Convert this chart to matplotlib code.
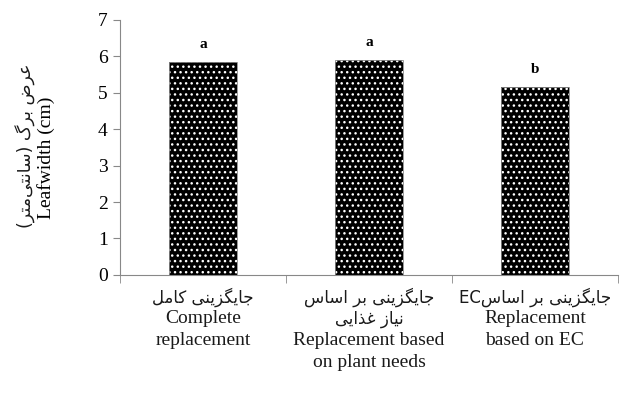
import re
import matplotlib
matplotlib.use("Agg")
import matplotlib.pyplot as plt
import numpy as np

# data
categories = ["جایگزینی کامل\nComplete\nreplacement",
              "جایگزینی بر اساس\nنیاز غذایی\nReplacement based\non plant needs",
              "جایگزینی بر اساسEC\nReplacement\nbased on EC"]
leaf_width = [5.85, 5.90, 5.17]
letters = ["a", "a", "b"]
ylabel_fa = "عرض برگ (سانتی‌متر)"
ylabel_en = "Leafwidth (cm)"

# contextual forms: isolated, final, initial, medial (None = right-joining only)
FORMS = {
    "ا": ("\uFE8D", "\uFE8E", None, None),
    "ب": ("\uFE8F", "\uFE90", "\uFE91", "\uFE92"),
    "ت": ("\uFE95", "\uFE96", "\uFE97", "\uFE98"),
    "ج": ("\uFE9D", "\uFE9E", "\uFE9F", "\uFEA0"),
    "ذ": ("\uFEAB", "\uFEAC", None, None),
    "ر": ("\uFEAD", "\uFEAE", None, None),
    "ز": ("\uFEAF", "\uFEB0", None, None),
    "س": ("\uFEB1", "\uFEB2", "\uFEB3", "\uFEB4"),
    "ض": ("\uFEBD", "\uFEBE", "\uFEBF", "\uFEC0"),
    "ع": ("\uFEC9", "\uFECA", "\uFECB", "\uFECC"),
    "غ": ("\uFECD", "\uFECE", "\uFECF", "\uFED0"),
    "ل": ("\uFEDD", "\uFEDE", "\uFEDF", "\uFEE0"),
    "م": ("\uFEE1", "\uFEE2", "\uFEE3", "\uFEE4"),
    "ن": ("\uFEE5", "\uFEE6", "\uFEE7", "\uFEE8"),
    "ی": ("\uFBFC", "\uFBFD", "\uFBFE", "\uFBFF"),
    "ک": ("\uFB8E", "\uFB8F", "\uFB90", "\uFB91"),
    "گ": ("\uFB92", "\uFB93", "\uFB94", "\uFB95"),
}
MIRROR = {"(": ")", ")": "("}
ARABIC = re.compile("[\u0600-\u06ff]")


def shape(s):
    out = []
    for i, ch in enumerate(s):
        if ch not in FORMS:
            if ch != "\u200c":
                out.append(ch)
            continue
        prev = s[i - 1] if i > 0 else ""
        nxt = s[i + 1] if i + 1 < len(s) else ""
        jp = prev in FORMS and FORMS[prev][2] is not None
        jn = FORMS[ch][2] is not None and nxt in FORMS
        f = FORMS[ch]
        out.append(f[3] if jp and jn else f[1] if jp else f[2] if jn else f[0])
    return "".join(out)


def rtl(line):
    if not ARABIC.search(line):
        return line
    runs = re.findall(r"[A-Za-z0-9]+|[^A-Za-z0-9]+", line)
    vis = []
    for r in reversed(runs):
        if re.match(r"[A-Za-z0-9]", r):
            vis.append(r)
        else:
            vis.append("".join(MIRROR.get(c, c) for c in reversed(shape(r))))
    return "".join(vis)


serif = ["Liberation Serif", "DejaVu Sans"]
sans = ["DejaVu Sans"]
plt.rcParams["hatch.color"] = "white"
plt.rcParams["hatch.linewidth"] = 1.0

fig = plt.figure(figsize=(6.43, 3.99), dpi=100)
ax = fig.add_axes([0.187, 0.311, 0.774, 0.639])

x = np.arange(len(categories))
ax.bar(x, leaf_width, width=0.41, color="black", hatch="...", linewidth=0)
ax.bar(x, leaf_width, width=0.41, fill=False, edgecolor="#888888", linewidth=0.6)
for xi, v, t in zip(x, leaf_width, letters):
    ax.text(xi, v + 0.3, t, ha="center", va="bottom", fontsize=11,
            fontweight="bold", family=serif)

ax.set_xlim(-0.5, 2.5)
ax.set_ylim(0, 7)
ax.set_yticks(range(8))
ax.set_xticks(x)
ax.set_xticklabels([""] * len(x))
ax.set_xticks([-0.5, 0.5, 1.5, 2.5], minor=True)
ax.tick_params(axis="x", which="major", length=0)
ax.tick_params(axis="x", which="minor", length=6, color="#888888")
ax.tick_params(axis="y", length=5, color="#888888", labelsize=14, pad=4)
for lab in ax.get_yticklabels():
    lab.set_family(serif)
for s in ["top", "right"]:
    ax.spines[s].set_visible(False)
for s in ["left", "bottom"]:
    ax.spines[s].set_color("#888888")

# category labels, one text per line (Persian lines in sans, English in serif)
for xi, cat in zip(x, categories):
    for k, line in enumerate(cat.split("\n")):
        fa = bool(ARABIC.search(line))
        ax.annotate(rtl(line), xy=(xi, 0), xycoords=("data", "axes fraction"),
                    xytext=(0, -22 - 22 * k), textcoords="offset pixels",
                    ha="center", va="center",
                    family=sans if fa else serif, fontsize=12 if fa else 14,
                    color="#1a1a1a")

fig.text(0.040, 0.635, rtl(ylabel_fa), rotation=90, ha="center", va="center",
         family=sans, fontsize=12.5, color="#1a1a1a")
fig.text(0.071, 0.605, ylabel_en, rotation=90, ha="center", va="center",
         family=serif, fontsize=14)

fig.savefig("out.png", dpi=100)
